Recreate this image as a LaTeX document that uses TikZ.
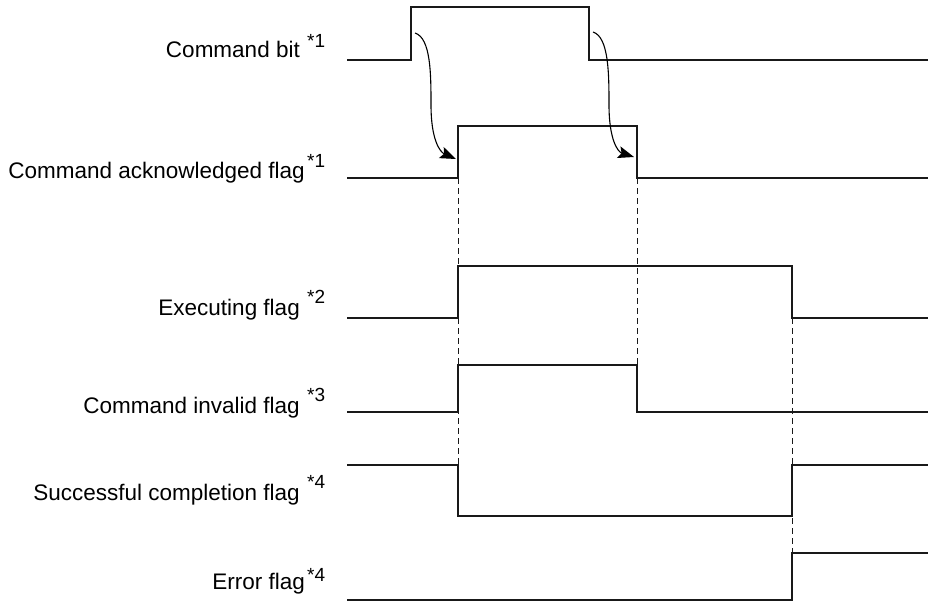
\documentclass[tikz,border=0pt]{standalone}
\usepackage{fontspec}
\setmainfont{Liberation Sans}
\usetikzlibrary{arrows.meta}
\tikzset{
  sig/.style={line width=2pt, line join=miter, color=black!90},
  guide/.style={line width=0.9pt, dash pattern=on 6pt off 4pt, color=black!90},
  lbl/.style={anchor=base east, inner sep=0pt, font=\fontsize{22.5}{26}\selectfont},
  note/.style={anchor=base west, inner sep=0pt, font=\fontsize{19}{21}\selectfont},
  cause/.style={line width=1.1pt, -{Stealth[length=16pt,width=12pt,inset=3pt]}}
}
\begin{document}
\begin{tikzpicture}[x=1pt,y=-1pt]
\useasboundingbox (0,0) rectangle (928,605);

% labels
\node[lbl] (l1) at (300,57) {Command bit};
\node[note] (n1) at (307,47) {*1};
\node[lbl] (l2) at (305,178) {Command acknowledged flag};
\node[note] (n2) at (307,167) {*1};
\node[lbl] (l3) at (300,315) {Executing flag};
\node[note] (n3) at (307,303) {*2};
\node[lbl] (l4) at (300,413) {Command invalid flag};
\node[note] (n4) at (307,401) {*3};
\node[lbl] (l5) at (300,500) {Successful completion flag};
\node[note] (n5) at (307,488) {*4};
\node[lbl] (l6) at (305,589) {Error flag};
\node[note] (n6) at (307,581) {*4};

% guides
\draw[guide] (458,178) -- (458,465);
\draw[guide] (637,178) -- (637,365);
\draw[guide] (792,318) -- (792,553);

% signals
\draw[sig] (347,60) -- (411,60) -- (411,7) -- (589,7) -- (589,60) -- (928,60);
\draw[sig] (347,178) -- (458,178) -- (458,126) -- (637,126) -- (637,178) -- (928,178);
\draw[sig] (347,318) -- (458,318) -- (458,266) -- (792,266) -- (792,318) -- (928,318);
\draw[sig] (347,412) -- (458,412) -- (458,365) -- (637,365) -- (637,412) -- (928,412);
\draw[sig] (347,465) -- (458,465) -- (458,516) -- (792,516) -- (792,465) -- (928,465);
\draw[sig] (347,600) -- (792,600) -- (792,553) -- (928,553);

% causal arrows
\coordinate (a1s) at (415,33);
\coordinate (a1e) at (456,159);
\coordinate (a2s) at (593,32);
\coordinate (a2e) at (634,157);
\draw[cause] (a1s) .. controls (431,38) and (431,75) .. (431,105)
  .. controls (431,140) and (440,152) .. (a1e);
\draw[cause] (a2s) .. controls (609,37) and (609,75) .. (609,105)
  .. controls (609,140) and (618,152) .. (a2e);
\end{tikzpicture}
\end{document}
